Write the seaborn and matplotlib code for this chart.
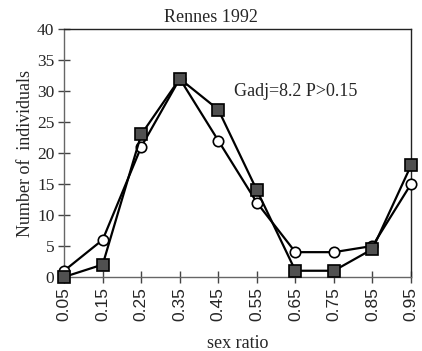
import matplotlib
matplotlib.use("Agg")
import matplotlib.pyplot as plt
import seaborn as sns
import pandas as pd

sex_ratio = [0.05, 0.15, 0.25, 0.35, 0.45, 0.55, 0.65, 0.75, 0.85, 0.95]
tick_labels = ["0.05", "0.15", "0.25", "0.35", "0.45", "0.55", "0.65", "0.75", "0.85", "0.95"]
observed = [0, 2, 23, 32, 27, 14, 1, 1, 4.5, 18]
expected = [1, 6, 21, 32, 22, 12, 4, 4, 5, 15]

sns.set_style("white", {"xtick.bottom": True, "ytick.left": True})
plt.rcParams['font.family'] = ['Liberation Serif', 'DejaVu Serif']

fig = plt.figure(figsize=(4.22, 3.51), dpi=100)
ax = fig.add_axes([0.152, 0.211, 0.822, 0.706])

df_exp = pd.DataFrame({"x": sex_ratio, "y": expected})
df_obs = pd.DataFrame({"x": sex_ratio, "y": observed})

sns.lineplot(data=df_exp, x="x", y="y", ax=ax, color="black", lw=1.6,
             marker="o", markersize=7.5, markerfacecolor="white",
             markeredgecolor="black", markeredgewidth=1.2, clip_on=False, zorder=3)
sns.lineplot(data=df_obs, x="x", y="y", ax=ax, color="black", lw=1.6,
             marker="s", markersize=9, markerfacecolor="#505050",
             markeredgecolor="black", markeredgewidth=1.2, clip_on=False, zorder=4)

ax.set_xlim(0.05, 0.95)
ax.set_ylim(0, 40)
ax.set_xticks(sex_ratio)
ax.set_xticklabels(tick_labels, rotation=90, family=['Liberation Sans'], fontsize=12.5)
ax.set_yticks(range(0, 41, 5))
ax.tick_params(axis='y', labelsize=12.5, direction='inout', length=8, width=1, color='#444', pad=3)
ax.tick_params(axis='x', direction='inout', length=8, width=1, color='#444', pad=3)
for name, s in ax.spines.items():
    s.set_linewidth(1)
    s.set_color('#666' if name in ('left', 'bottom') else '#222')

ax.set_xlabel("sex ratio", fontsize=13)
ax.xaxis.set_label_coords(0.5, -0.268)
ax.xaxis.label.set_va('center')
ax.set_ylabel("Number of  individuals", fontsize=13, labelpad=2)
ax.text(0.423, 1.012, "Rennes 1992", transform=ax.transAxes, fontsize=13,
        ha='center', va='bottom')
ax.text(0.65, 30, "Gadj=8.2 P>0.15", fontsize=13, ha='center', va='center')

fig.savefig("out.png", dpi=100)
